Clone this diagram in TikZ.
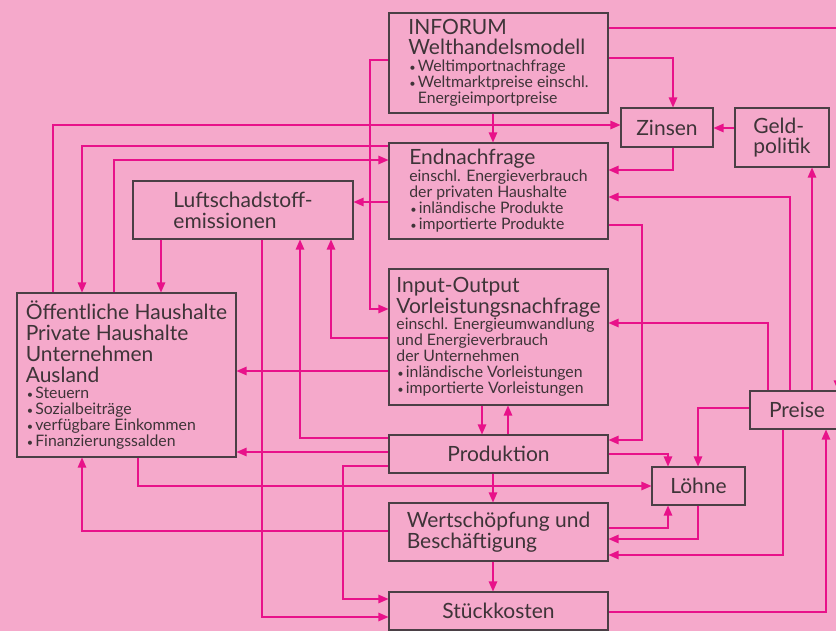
\documentclass[tikz,border=0pt]{standalone}
\usepackage{fontspec}
\setmainfont{Lato}
\usetikzlibrary{arrows.meta}
\definecolor{bgpink}{HTML}{F5A9CB}
\definecolor{flowpink}{HTML}{E8128A}
\definecolor{boxline}{HTML}{4A3F45}
\definecolor{boxtext}{HTML}{3E3438}
\newcommand{\hd}{\fontsize{21}{21}\selectfont}
\newcommand{\boxfont}{\fontsize{15.8}{16}\selectfont\lineskiplimit=-50pt\relax}
\newcommand{\bul}{\makebox[9.5pt][l]{\hspace{1pt}\fontsize{11}{16}\selectfont•}}
\tikzset{
box/.style={ % Sets the properties for each box
draw=boxline,
line width=1.1pt,
fill=bgpink,
text=boxtext,
align=left,
inner sep=0pt,
font=\boxfont},
flow/.style={ % Sets the properties for each connector
draw=flowpink,
line width=1.3pt,
-{Triangle[length=10pt,width=8.5pt]}}}

\begin{document}
\begin{tikzpicture}[x=1pt, y=-1pt]
	\useasboundingbox (0,0) rectangle (836,631);
	\fill[bgpink] (0,0) rectangle (836,631);
	\node[box, minimum width=219pt, minimum height=100pt] (inforum) at (498.5,63) {{\hd INFORUM}\\[4pt]{\hd Welthandelsmodell}\\[1pt]\bul Weltimportnachfrage\\\bul Weltmarktpreise einschl.\\\phantom{\bul}Energieimportpreise};
	\node[box, minimum width=92pt, minimum height=39pt] (zinsen) at (667,127.5) {\hd Zinsen};
	\node[box, minimum width=94pt, minimum height=59pt] (geld) at (782,137.5) {{\hd Geld-}\\[4pt]{\hd politik}};
	\node[box, minimum width=219pt, minimum height=96pt] (endn) at (498.5,191) {{\hd Endnachfrage}\\[1pt]einschl. Energieverbrauch\\der privaten Haushalte\\\bul inländische Produkte\\\bul importierte Produkte};
	\node[box, minimum width=220pt, minimum height=58pt] (luft) at (243,210) {{\hd Luftschadstoff-}\\[5pt]{\hd emissionen}};
	\node[box, minimum width=219pt, minimum height=136pt] (io) at (498.5,337) {{\hd Input-Output}\\[5pt]{\hd Vorleistungsnachfrage}\\[0pt]einschl. Energieumwandlung\\und Energieverbrauch\\der Unternehmen\\\bul inländische Vorleistungen\\\bul importierte Vorleistungen};
	\node[box, minimum width=219pt, minimum height=164pt] (oeff) at (126.5,375) {{\hd Öffentliche Haushalte}\\[5pt]{\hd Private Haushalte}\\[5pt]{\hd Unternehmen}\\[5pt]{\hd Ausland}\\[0pt]\bul Steuern\\\bul Sozialbeiträge\\\bul verfügbare Einkommen\\\bul Finanzierungssalden};
	\node[box, minimum width=219pt, minimum height=38pt] (prod) at (498.5,454) {\hd Produktion};
	\node[box, minimum width=94pt, minimum height=38pt] (preise) at (797,410) {\hd Preise};
	\node[box, minimum width=93pt, minimum height=38pt] (loehne) at (698.5,486) {\hd Löhne};
	\node[box, minimum width=219pt, minimum height=58pt] (wert) at (498.5,532) {{\hd Wertschöpfung und}\\[5pt]{\hd Beschäftigung}};
	\node[box, minimum width=219pt, minimum height=38pt] (stueck) at (498.5,611) {\hd Stückkosten};

	\draw[flow] (inforum.east |- 0,28) -| (preise.north -| 838,0);
	\draw[flow] (inforum.east |- 0,58) -| (zinsen.north -| 673,0);
	\draw[flow] (inforum.south -| 493,0) -- (endn.north -| 493,0);
	\draw[flow] (inforum.west |- 0,60) -- (370,60) |- (io.west |- 0,309);
	\draw[flow] (oeff.north -| 53,0) |- (zinsen.west |- 0,125);
	\draw[flow] (geld.west |- 0,128) -- (zinsen.east |- 0,128);
	\draw[flow] (zinsen.south -| 673,0) |- (endn.east |- 0,170);
	\draw[flow] (endn.west |- 0,146) -| (oeff.north -| 82,0);
	\draw[flow] (oeff.north -| 114,0) |- (endn.west |- 0,160);
	\draw[flow] (endn.west |- 0,202) -- (luft.east |- 0,202);
	\draw[flow] (luft.south -| 161,0) -- (oeff.north -| 161,0);
	\draw[flow] (luft.south -| 262,0) |- (stueck.west |- 0,617);
	\draw[flow] (prod.west |- 0,438) -| (luft.south -| 300,0);
	\draw[flow] (io.west |- 0,338) -| (luft.south -| 331,0);
	\draw[flow] (io.west |- 0,371) -- (oeff.east |- 0,371);
	\draw[flow] (prod.west |- 0,452) -- (oeff.east |- 0,452);
	\draw[flow] (prod.west |- 0,466) -- (343,466) |- (stueck.west |- 0,599);
	\draw[flow] (oeff.south -| 138,0) |- (loehne.west |- 0,486);
	\draw[flow] (wert.west |- 0,531) -| (oeff.south -| 82,0);
	\draw[flow] (io.south -| 482,0) -- (prod.north -| 482,0);
	\draw[flow] (prod.north -| 508,0) -- (io.south -| 508,0);
	\draw[flow] (endn.east |- 0,225) -- (642,225) |- (prod.east |- 0,440);
	\draw[flow] (preise.north -| 768,0) |- (io.east |- 0,323);
	\draw[flow] (preise.north -| 790,0) |- (endn.east |- 0,197);
	\draw[flow] (preise.north -| 812,0) -- (geld.south -| 812,0);
	\draw[flow] (preise.west |- 0,408) -| (loehne.north -| 698,0);
	\draw[flow] (prod.east |- 0,454) -| (loehne.north -| 668,0);
	\draw[flow] (prod.south -| 493,0) -- (wert.north -| 493,0);
	\draw[flow] (wert.east |- 0,528) -| (loehne.south -| 668,0);
	\draw[flow] (loehne.south -| 698,0) |- (wert.east |- 0,539);
	\draw[flow] (preise.south -| 783,0) |- (wert.east |- 0,555);
	\draw[flow] (stueck.east |- 0,612) -| (preise.south -| 826,0);
	\draw[flow] (wert.south -| 493,0) -- (stueck.north -| 493,0);
\end{tikzpicture}
\end{document}
